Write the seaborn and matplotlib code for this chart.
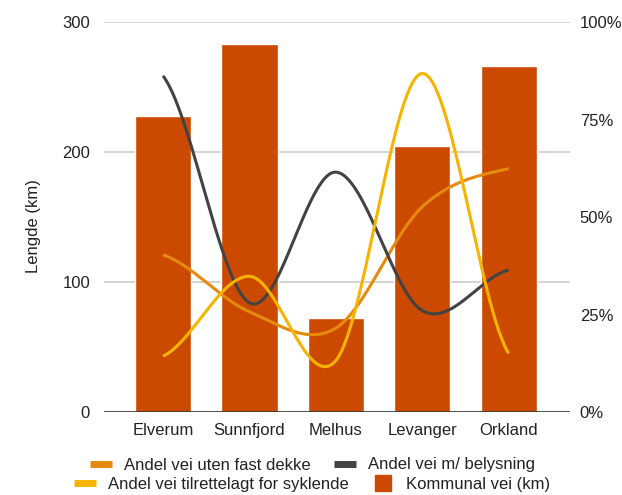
import numpy as np
import pandas as pd
import matplotlib
matplotlib.use("Agg")
import matplotlib.pyplot as plt
from matplotlib.lines import Line2D
from matplotlib.ticker import FuncFormatter
import seaborn as sns

# Data
kommuner = ["Elverum", "Sunnfjord", "Melhus", "Levanger", "Orkland"]
kommunal_vei_km = [228, 283, 72, 205, 266]
andel_uten_fast_dekke = [40.3, 25.7, 21.5, 52.6, 62.4]
andel_belysning = [86.2, 28.0, 61.5, 26.0, 36.4]
andel_sykkel = [14.3, 34.8, 13.2, 86.8, 15.0]

left_ticks = [0, 100, 200, 300]
right_ticks = [0, 25, 50, 75, 100]

C_BAR = "#cc4a00"
C_DEKKE = "#e68a0e"
C_LYS = "#434343"
C_SYKKEL = "#f6b400"
TXT = "#222222"

sns.set_theme(style="white")
plt.rcParams["font.family"] = ["Liberation Sans", "DejaVu Sans"]


def smooth(xs, ys, n=60):
    """Cubic Hermite curve through the points with Catmull-Rom tangents."""
    xs = np.asarray(xs, float)
    ys = np.asarray(ys, float)
    k = len(ys)
    m = np.zeros(k)
    for i in range(k):
        a = ys[max(i - 1, 0)]
        b = ys[min(i + 1, k - 1)]
        m[i] = (b - a) / 2.0
    out_x, out_y = [], []
    for i in range(k - 1):
        t = np.linspace(0, 1, n, endpoint=(i == k - 2))
        h00 = 2 * t**3 - 3 * t**2 + 1
        h10 = t**3 - 2 * t**2 + t
        h01 = -2 * t**3 + 3 * t**2
        h11 = t**3 - t**2
        out_x.append(xs[i] + t * (xs[i + 1] - xs[i]))
        out_y.append(h00 * ys[i] + h10 * m[i] + h01 * ys[i + 1] + h11 * m[i + 1])
    return np.concatenate(out_x), np.concatenate(out_y)


fig = plt.figure(figsize=(6.22, 4.95), dpi=100)
W, H = 622, 495
x0, x1, y0, y1 = 104, 570, 22, 412
ax = fig.add_axes([x0 / W, 1 - y1 / H, (x1 - x0) / W, (y1 - y0) / H])

df = pd.DataFrame({"kommune": kommuner, "km": kommunal_vei_km})
sns.barplot(data=df, x="kommune", y="km", color=C_BAR, width=0.65,
            saturation=1, ax=ax, zorder=2)

ax.set_xlim(-0.683, 4.71)
ax.set_ylim(0, 300)
ax.set_yticks(left_ticks)
for v in left_ticks[1:]:
    ax.axhline(v, color="#c8c8c8", lw=1.1, zorder=0)
ax.axhline(0, color="#333333", lw=1.2, zorder=3)
for s in ax.spines.values():
    s.set_visible(False)
ax.tick_params(axis="both", length=0, labelsize=12, colors=TXT)
ax.tick_params(axis="y", pad=10)
ax.tick_params(axis="x", pad=8)
ax.set_xlabel("")
ax.set_ylabel("Lengde (km)", fontsize=12, color=TXT)
ax.yaxis.set_label_coords(-0.136, 0.477)

ax2 = ax.twinx()
ax2.set_ylim(0, 100)
ax2.set_yticks(right_ticks)
ax2.yaxis.set_major_formatter(FuncFormatter(lambda v, p: f"{int(v)}%"))
ax2.tick_params(axis="y", length=0, labelsize=12, colors=TXT, pad=7)
for s in ax2.spines.values():
    s.set_visible(False)
ax2.grid(False)

xpos = np.arange(len(kommuner))
for vals, col in [(andel_uten_fast_dekke, C_DEKKE),
                  (andel_belysning, C_LYS),
                  (andel_sykkel, C_SYKKEL)]:
    sx, sy = smooth(xpos, vals)
    ax2.plot(sx, sy, color=col, lw=2.2, solid_capstyle="butt", zorder=4)
ax2.set_xlim(ax.get_xlim())

# Legend, two centred rows
row1 = [Line2D([], [], color=C_DEKKE, lw=5, solid_capstyle="butt"),
        Line2D([], [], color=C_LYS, lw=5, solid_capstyle="butt")]
row2 = [Line2D([], [], color=C_SYKKEL, lw=5, solid_capstyle="butt"),
        Line2D([], [], color=C_BAR, marker="s", markersize=11, lw=0)]
common = dict(loc="center", ncol=2, frameon=False, fontsize=12,
              handlelength=1.35, handletextpad=0.7, columnspacing=1.4,
              labelcolor=TXT, borderaxespad=0, borderpad=0)
leg1 = fig.legend(row1, ["Andel vei uten fast dekke", "Andel vei m/ belysning"],
                  bbox_to_anchor=(0.502, 1 - 465 / H), **common)
leg2 = fig.legend(row2, ["Andel vei tilrettelagt for syklende", "Kommunal vei (km)"],
                  bbox_to_anchor=(0.502, 1 - 484 / H), **common)

fig.savefig("out.png", dpi=100, facecolor="white")
